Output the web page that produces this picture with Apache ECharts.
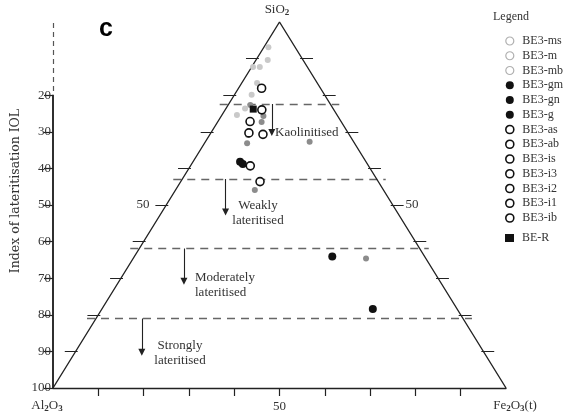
<!DOCTYPE html>
<html><head><meta charset="utf-8">
<script src="https://cdn.jsdelivr.net/npm/echarts@6/dist/echarts.min.js"></script>
<style>html,body{margin:0;padding:0;background:#fff}#c{width:570px;height:417px}</style>
</head><body><div id="c"></div>
<script>
// Each row: [SiO2, Al2O3, Fe2O3(t)] in % (sum 100)
const BE3_ms = [[93.1, 5.9, 1.0], [89.6, 7.8, 2.6], [87.7, 12.0, 0.3]];
const BE3_m  = [[87.7, 10.5, 1.8], [83.3, 13.3, 3.4], [80.1, 16.1, 3.8], [76.4, 19.4, 4.2], [74.6, 22.1, 3.3]];
const BE3_mb = [[77.3, 17.8, 4.9], [74.3, 16.4, 9.3], [72.7, 17.6, 9.7], [69.1, 22.4, 8.5], [66.9, 23.7, 9.4], [67.3, 9.7, 23.0], [54.1, 28.4, 17.5], [35.4, 13.2, 51.4]];
const BE3_gm = [[61.8, 27.8, 10.4], [61.2, 27.5, 11.3]];
const BE3_gn = [[35.9, 20.4, 43.7]];
const BE3_g  = [[21.6, 18.6, 59.8]];
const BE3_as = [[81.9, 13.0, 5.1]];
const BE3_ab = [[76.0, 15.9, 8.1]];
const BE3_is = [[72.8, 20.1, 7.1]];
const BE3_i3 = [[69.7, 21.9, 8.4]];
const BE3_i2 = [[69.3, 19.0, 11.7]];
const BE3_i1 = [[60.7, 26.1, 13.2]];
const BE3_ib = [[56.4, 26.1, 17.5]];
const BE_R   = [[76.2, 17.7, 6.1]];

const iolTicks = [20, 30, 40, 50, 60, 70, 80, 90, 100];
const edgeTicks = [10, 20, 30, 40, 50, 60, 70, 80, 90];
const baseTicks = [10, 20, 30, 40, 50, 60, 70, 80, 90];
const baseLabels = [50];
const zoneBoundaries = [22.4, 42.9, 61.9, 81.0];   // IOL
const zoneNames = ['Kaolinitised', 'Weakly lateritised', 'Moderately lateritised', 'Strongly lateritised'];

// ternary -> (x along base 0..100, IOL)
function toXY(r) {
  const s = r[0] + r[1] + r[2];
  const si = r[0] / s * 100, fe = r[2] / s * 100;
  return [fe + si / 2, 100 - si];
}
const leftEdge = iol => (100 - iol) / 2;
const rightEdge = iol => 100 - (100 - iol) / 2;

const SERIF = 'Liberation Serif';
const TXT = '#333';
const LINE = '#222';

const lightGrey = {color: '#c9c9c9', opacity: 1};
const midGrey = {color: '#8c8c8c', opacity: 1};
const black = {color: '#111', opacity: 1};
const open = {color: '#fff', borderColor: '#111', borderWidth: 1.6, opacity: 1};

function sc(name, data, style, size, symbol) {
  return {
    type: 'scatter', name: name, data: data.map(toXY), symbol: symbol || 'circle',
    symbolSize: size, itemStyle: style, z: 5, clip: false,
    emphasis: {disabled: true}
  };
}
function seg(data, style, extra) {
  return Object.assign({type: 'lines', coordinateSystem: 'cartesian2d', silent: true, z: 2,
    lineStyle: Object.assign({opacity: 1}, style), data: data}, extra || {});
}

const edgeTickSegs = [];
edgeTicks.forEach(v => {
  const l = leftEdge(v), r = rightEdge(v);
  edgeTickSegs.push({coords: [[l - 2.4, v], [l + 0.45, v]]});
  edgeTickSegs.push({coords: [[r - 0.45, v], [r + 2.4, v]]});
});
const boundarySegs = zoneBoundaries.map(v => ({coords: [[leftEdge(v) - 2, v], [rightEdge(v) + 2, v]]}));

const arrowSegs = [
  {coords: [[48.3, zoneBoundaries[0]], [48.3, 30.2]]},
  {coords: [[38.1, zoneBoundaries[1]], [38.1, 51.9]]},
  {coords: [[28.9, zoneBoundaries[2]], [28.9, 70.8]]},
  {coords: [[19.6, zoneBoundaries[3]], [19.6, 90.2]]}
];

const legendOpen = {color: '#fff', borderColor: '#111', borderWidth: 1.6, opacity: 1};
const legendLight = {color: '#fff', borderColor: '#b0b0b0', borderWidth: 1.2, opacity: 1};

const GT = 22, GB = 29, H = 417 - GT - GB;

const chart = echarts.init(document.getElementById('c'), null, {renderer: 'canvas'});
chart.setOption({
  animation: false,
  backgroundColor: '#fff',
  grid: [
    {left: 53, right: 64, top: GT, bottom: GB},
    {left: 53, right: 64, top: GT + H * iolTicks[0] / 100, bottom: GB}
  ],
  xAxis: [{
    type: 'value', min: 0, max: 100, position: 'bottom', gridIndex: 0,
    axisLine: {show: true, onZero: false, lineStyle: {color: LINE, width: 1.4}},
    axisTick: {show: true, customValues: baseTicks, length: 8, lineStyle: {color: LINE, width: 1.2}},
    axisLabel: {show: true, customValues: baseLabels, margin: 12, fontFamily: SERIF, fontSize: 13, color: TXT},
    splitLine: {show: false}
  }, {
    type: 'value', min: 0, max: 100, gridIndex: 1, show: false
  }],
  yAxis: [{
    type: 'value', min: 0, max: 100, inverse: true, gridIndex: 0, show: false
  }, {
    type: 'value', min: 20, max: 100, interval: 10, inverse: true, gridIndex: 1,
    axisLine: {show: true, onZero: false, lineStyle: {color: LINE, width: 1.5}},
    axisTick: {show: true, length: 9, lineStyle: {color: LINE, width: 1.2}},
    axisLabel: {show: true, margin: 2, fontFamily: SERIF, fontSize: 13, color: TXT},
    splitLine: {show: false}
  }],
  legend: [{
    orient: 'vertical', left: 500, top: 30, itemWidth: 9, itemHeight: 8, itemGap: 2.75,
    selectedMode: false,
    textStyle: {fontFamily: SERIF, fontSize: 12, color: TXT, lineHeight: 12, padding: [0, 0, 0, 3]},
    data: [
      {name: 'BE3-ms', icon: 'circle', itemStyle: legendLight},
      {name: 'BE3-m', icon: 'circle', itemStyle: legendLight},
      {name: 'BE3-mb', icon: 'circle', itemStyle: legendLight},
      {name: 'BE3-gm', icon: 'circle'},
      {name: 'BE3-gn', icon: 'circle'},
      {name: 'BE3-g', icon: 'circle'},
      {name: 'BE3-as', icon: 'circle', itemStyle: legendOpen},
      {name: 'BE3-ab', icon: 'circle', itemStyle: legendOpen},
      {name: 'BE3-is', icon: 'circle', itemStyle: legendOpen},
      {name: 'BE3-i3', icon: 'circle', itemStyle: legendOpen},
      {name: 'BE3-i2', icon: 'circle', itemStyle: legendOpen},
      {name: 'BE3-i1', icon: 'circle', itemStyle: legendOpen},
      {name: 'BE3-ib', icon: 'circle', itemStyle: legendOpen}
    ]
  }, {
    orient: 'vertical', left: 500, top: 227, itemWidth: 9, itemHeight: 8,
    selectedMode: false,
    textStyle: {fontFamily: SERIF, fontSize: 12, color: TXT, lineHeight: 12, padding: [0, 0, 0, 3]},
    data: [{name: 'BE-R', icon: 'rect'}]
  }],
  series: [
    // triangle
    {type: 'line', data: [[0, 100], [50, 0], [100, 100]], symbol: 'none', silent: true,
     lineStyle: {color: LINE, width: 1.4, opacity: 1}, z: 2, clip: false},
    // solid IOL axis line 20-100 (second grid) 
    {type: 'line', xAxisIndex: 1, yAxisIndex: 1, data: [[0, iolTicks[0]], [0, 100]], symbol: 'none', silent: true,
     lineStyle: {color: LINE, width: 1.5, opacity: 1}, z: 3, clip: false},
    // dashed extension of IOL axis above 20
    seg([{coords: [[0, 0.3], [0, iolTicks[0]]]}], {color: '#555', width: 1.2, type: [5, 4]}),
    // edge ticks
    seg(edgeTickSegs, {color: LINE, width: 1.2}),
    // zone boundaries
    seg(boundarySegs, {color: '#666', width: 1.3, type: [8, 6]}),
    // arrows
    seg(arrowSegs, {color: LINE, width: 1.1}, {symbol: ['none', 'triangle'], symbolSize: [0, 7], itemStyle: {color: LINE, opacity: 1}}),
    sc('BE3-ms', BE3_ms, lightGrey, 6),
    sc('BE3-m', BE3_m, lightGrey, 6),
    sc('BE3-mb', BE3_mb, midGrey, 6),
    sc('BE3-gm', BE3_gm, black, 8),
    sc('BE3-gn', BE3_gn, black, 8),
    sc('BE3-g', BE3_g, black, 8),
    sc('BE3-as', BE3_as, open, 8),
    sc('BE3-ab', BE3_ab, open, 8),
    sc('BE3-is', BE3_is, open, 8),
    sc('BE3-i3', BE3_i3, open, 8),
    sc('BE3-i2', BE3_i2, open, 8),
    sc('BE3-i1', BE3_i1, open, 8),
    sc('BE3-ib', BE3_ib, open, 8),
    sc('BE-R', BE_R, black, 7, 'rect')
  ],
  graphic: [
    {type: 'text', left: 99, top: 17, style: {text: 'c', font: 'bold 25px "Liberation Sans"', fill: '#000'}},
    {type: 'text', x: 493, y: 17, style: {text: 'Legend', font: '12px "Liberation Serif"', fill: TXT, textVerticalAlign: 'middle'}},
    {type: 'text', x: 277, y: 10, style: {
      text: '{a|SiO}{s|2}', textAlign: 'center', textVerticalAlign: 'middle',
      rich: {a: {fontFamily: SERIF, fontSize: 13, fill: TXT}, s: {fontFamily: SERIF, fontSize: 9, fontWeight: 'bold', fill: TXT, padding: [5, 0, 0, 0]}}}},
    {type: 'text', x: 47, y: 406, style: {
      text: '{a|Al}{s|2}{a|O}{s|3}', textAlign: 'center', textVerticalAlign: 'middle',
      rich: {a: {fontFamily: SERIF, fontSize: 13, fill: TXT}, s: {fontFamily: SERIF, fontSize: 9, fontWeight: 'bold', fill: TXT, padding: [5, 0, 0, 0]}}}},
    {type: 'text', x: 515, y: 406, style: {
      text: '{a|Fe}{s|2}{a|O}{s|3}{a|(t)}', textAlign: 'center', textVerticalAlign: 'middle',
      rich: {a: {fontFamily: SERIF, fontSize: 13, fill: TXT}, s: {fontFamily: SERIF, fontSize: 9, fontWeight: 'bold', fill: TXT, padding: [5, 0, 0, 0]}}}},
    {type: 'text', x: 16, y: 191, rotation: Math.PI / 2, style: {
      text: 'Index of lateritisation IOL', font: '12.5px "DejaVu Serif"', fill: TXT, textAlign: 'center', textVerticalAlign: 'middle'}},
    {type: 'text', x: 143, y: 205, style: {text: '50', font: '13px "Liberation Serif"', fill: TXT, textAlign: 'center', textVerticalAlign: 'middle'}},
    {type: 'text', x: 412, y: 205, style: {text: '50', font: '13px "Liberation Serif"', fill: TXT, textAlign: 'center', textVerticalAlign: 'middle'}},
    {type: 'text', x: 275, y: 133, style: {text: zoneNames[0], font: '13px "Liberation Serif"', fill: TXT, textVerticalAlign: 'middle'}},
    {type: 'text', x: 258, y: 213, style: {text: 'Weakly\nlateritised', font: '13px "Liberation Serif"', lineHeight: 15, fill: TXT, textAlign: 'center', textVerticalAlign: 'middle'}},
    {type: 'text', x: 195, y: 285, style: {text: 'Moderately\nlateritised', font: '13px "Liberation Serif"', lineHeight: 15, fill: TXT, textVerticalAlign: 'middle'}},
    {type: 'text', x: 180, y: 353, style: {text: 'Strongly\nlateritised', font: '13px "Liberation Serif"', lineHeight: 15, fill: TXT, textAlign: 'center', textVerticalAlign: 'middle'}}
  ]
});
</script>
</body></html>
